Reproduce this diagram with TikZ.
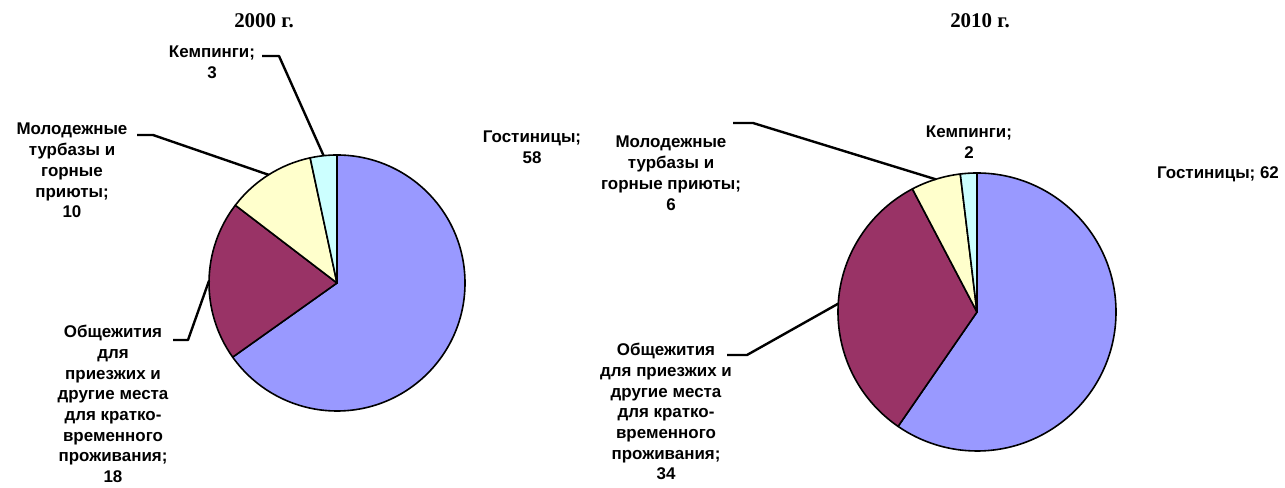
\documentclass[tikz,border=0pt]{standalone}
\usepackage{fontspec}
\setmainfont{Liberation Serif}
\newfontfamily\labfont{Liberation Sans}
\usetikzlibrary{calc}
\definecolor{hotelc}{HTML}{9999FF}
\definecolor{hostelc}{HTML}{993366}
\definecolor{youthc}{HTML}{FFFFCC}
\definecolor{campc}{HTML}{CCFFFF}
\tikzset{
  slice/.style={draw=black,line width=1.6bp,line join=round},
  lbl/.style={anchor=north,align=center,inner sep=0pt,font=\labfont\bfseries\fontsize{17}{20.8}\selectfont},
  ttl/.style={inner sep=0pt,font=\bfseries\fontsize{21}{23}\selectfont},
  leader/.style={draw=black,line width=2.4bp,line join=round}
}
\begin{document}
\begin{tikzpicture}[x=1bp,y=1bp]
\useasboundingbox (0,0) rectangle (1285,488);
% centres
\coordinate (L) at (337,205);
\coordinate (R) at (977,176);
% titles
\node[ttl] (t1) at (264,467) {2000 г.};
\node[ttl] (t2) at (980,467) {2010 г.};
% pie 2000
\draw[slice,fill=hotelc] (L) -- ++(90:128) arc[start angle=90,end angle=-144.6,radius=128] -- cycle;
\draw[slice,fill=hostelc] (L) -- ++(-144.6:128) arc[start angle=-144.6,end angle=-217.4,radius=128] -- cycle;
\draw[slice,fill=youthc] (L) -- ++(142.6:128) arc[start angle=142.6,end angle=102.1,radius=128] -- cycle;
\draw[slice,fill=campc] (L) -- ++(102.1:128) arc[start angle=102.1,end angle=90,radius=128] -- cycle;
% pie 2010
\draw[slice,fill=hotelc] (R) -- ++(90:139) arc[start angle=90,end angle=-124.6,radius=139] -- cycle;
\draw[slice,fill=hostelc] (R) -- ++(-124.6:139) arc[start angle=-124.6,end angle=-242.3,radius=139] -- cycle;
\draw[slice,fill=youthc] (R) -- ++(117.7:139) arc[start angle=117.7,end angle=96.9,radius=139] -- cycle;
\draw[slice,fill=campc] (R) -- ++(96.9:139) arc[start angle=96.9,end angle=90,radius=139] -- cycle;
% labels 2000
\node[lbl] (k1) at (212,442) {Кемпинги;\\3};
\node[lbl] (m1) at (72,365) {Молодежные\\турбазы и\\горные\\приюты;\\10};
\node[lbl] (o1) at (113,163) {Общежития\\для\\приезжих и\\другие места\\для кратко-\\временного\\проживания;\\18};
\node[lbl] (g1) at (532,357) {Гостиницы;\\58};
% labels 2010
\node[lbl] (k2) at (969,362) {Кемпинги;\\2};
\node[lbl] (m2) at (671,352) {Молодежные\\турбазы и\\горные приюты;\\6};
\node[lbl] (o2) at (666,145) {Общежития\\для приезжих и\\другие места\\для кратко-\\временного\\проживания;\\34};
\node[lbl] (g2) at (1218,322) {Гостиницы; 62};
% leader anchor points
\coordinate (k1s) at (262,432);
\coordinate (k1b) at (279,432);
\coordinate (k1e) at ($(L)+(96:128)$);
\coordinate (m1s) at (137,353);
\coordinate (m1b) at (153,353);
\coordinate (m1e) at ($(L)+(122.3:128)$);
\coordinate (o1s) at (173,148);
\coordinate (o1b) at (188,148);
\coordinate (o1e) at ($(L)+(179:128)$);
\coordinate (m2s) at (733,365);
\coordinate (m2b) at (753,365);
\coordinate (m2e) at ($(R)+(107.3:139)$);
\coordinate (o2s) at (727,133);
\coordinate (o2b) at (747,133);
\coordinate (o2e) at ($(R)+(176.55:139)$);
% leaders
\draw[leader] (k1s) -- (k1b) -- (k1e);
\draw[leader] (m1s) -- (m1b) -- (m1e);
\draw[leader] (o1s) -- (o1b) -- (o1e);
\draw[leader] (m2s) -- (m2b) -- (m2e);
\draw[leader] (o2s) -- (o2b) -- (o2e);
\end{tikzpicture}
\end{document}
